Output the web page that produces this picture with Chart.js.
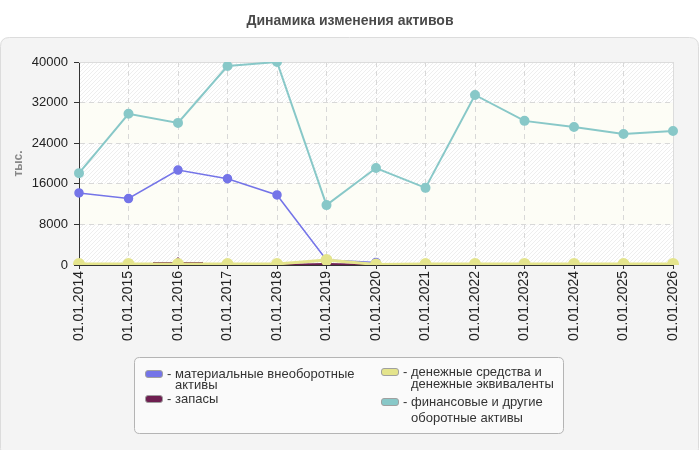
<!DOCTYPE html>
<html><head><meta charset="utf-8">
<script src="https://cdn.jsdelivr.net/npm/chart.js@4"></script>
<style>html,body{margin:0;padding:0;background:#fff;}#wrap{width:700px;height:450px;position:relative}</style>
</head><body><div id="wrap"><canvas id="c" width="700" height="450"></canvas></div>
<script>
const categories = ['01.01.2014','01.01.2015','01.01.2016','01.01.2017','01.01.2018','01.01.2019','01.01.2020','01.01.2021','01.01.2022','01.01.2023','01.01.2024','01.01.2025','01.01.2026'];
const materialAssets = [14200,13100,18700,17000,13800,1000,500,null,null,null,null,null,null];
const stocks = [0,0,400,0,0,200,0,0,0,0,0,0,0];
const stocksMark = [null,null,400,null,null,null,null,null,null,null,null,null,null];
const cash = [200,200,200,200,200,1000,100,200,200,200,200,200,200];
const financial = [18100,29800,28000,39200,40000,11800,19100,15200,33500,28400,27200,25800,26400];
const yTicks = [0,8000,16000,24000,32000,40000];
const seriesNames = ['материальные внеоборотные активы','запасы','денежные средства и денежные эквиваленты','финансовые и другие оборотные активы'];
const titleText = 'Динамика изменения активов';
const yTitle = 'тыс.';

const FONT = '"Liberation Sans", Arial, sans-serif';
const COLORS = ['#7474e8','#6e1f50','#e4e48c','#88c8c8'];

function hatchPattern(ctx){
  const p = document.createElement('canvas'); p.width = 4; p.height = 4;
  const g = p.getContext('2d');
  g.fillStyle = '#ffffff'; g.fillRect(0,0,4,4);
  g.strokeStyle = '#eeeeee'; g.lineWidth = 1;
  g.beginPath(); g.moveTo(0,4); g.lineTo(4,0); g.moveTo(-1,1); g.lineTo(1,-1); g.moveTo(3,5); g.lineTo(5,3); g.stroke();
  return ctx.createPattern(p,'repeat');
}
function roundRect(ctx,x,y,w,h,r){
  ctx.beginPath();
  ctx.moveTo(x+r,y); ctx.lineTo(x+w-r,y); ctx.quadraticCurveTo(x+w,y,x+w,y+r);
  ctx.lineTo(x+w,y+h-r); ctx.quadraticCurveTo(x+w,y+h,x+w-r,y+h);
  ctx.lineTo(x+r,y+h); ctx.quadraticCurveTo(x,y+h,x,y+h-r);
  ctx.lineTo(x,y+r); ctx.quadraticCurveTo(x,y,x+r,y); ctx.closePath();
}

const bgPlugin = {
  id:'bg',
  beforeDraw(chart){
    const ctx = chart.ctx, a = chart.chartArea, y = chart.scales.y;
    ctx.save();
    ctx.fillStyle = '#fff'; ctx.fillRect(0,0,chart.width,chart.height);
    roundRect(ctx,0.5,37.5,698,420,9);
    ctx.fillStyle = '#f4f4f4'; ctx.fill();
    ctx.strokeStyle = '#dcdcdc'; ctx.lineWidth = 1; ctx.stroke();
    ctx.fillStyle = '#4a4a4a'; ctx.font = 'bold 14px ' + FONT;
    ctx.textAlign = 'center'; ctx.textBaseline = 'middle';
    ctx.fillText(titleText, 350, 21);
    const pat = hatchPattern(ctx);
    for (let i = 0; i < yTicks.length-1; i++){
      const y0 = y.getPixelForValue(yTicks[i]), y1 = y.getPixelForValue(yTicks[i+1]);
      ctx.fillStyle = (i % 2 === 0) ? pat : '#fdfdf6';
      ctx.fillRect(a.left, y1, a.right-a.left, y0-y1);
    }
    ctx.restore();
  },
  beforeDatasetsDraw(chart){
    const ctx = chart.ctx, a = chart.chartArea;
    ctx.save();
    ctx.strokeStyle = '#dcdcdc'; ctx.lineWidth = 1;
    ctx.beginPath();
    ctx.moveTo(a.left, Math.round(a.top)+0.5); ctx.lineTo(a.right+0.5, Math.round(a.top)+0.5);
    ctx.lineTo(Math.round(a.right)+0.5, a.bottom);
    ctx.stroke();
    ctx.restore();
  },
  afterDraw(chart){
    const ctx = chart.ctx;
    ctx.save();
    roundRect(ctx,134.5,357.5,429,76,5);
    ctx.fillStyle = '#fafafa'; ctx.fill();
    ctx.strokeStyle = '#b4b4b4'; ctx.lineWidth = 1; ctx.stroke();
    const items = [
      {c:0, x:145, lines:['материальные внеоборотные','активы'], ys:[374,385]},
      {c:1, x:145, lines:['запасы'], ys:[399]},
      {c:2, x:381, lines:['денежные средства и','денежные эквиваленты'], ys:[372,384]},
      {c:3, x:381, lines:['финансовые и другие','оборотные активы'], ys:[402,418]}
    ];
    ctx.font = '13px ' + FONT; ctx.textBaseline = 'middle'; ctx.textAlign = 'left';
    items.forEach(it => {
      roundRect(ctx, it.x+0.5, it.ys[0]-3.5, 17, 7, 2.5);
      ctx.fillStyle = COLORS[it.c]; ctx.fill();
      ctx.strokeStyle = '#a0a0a0'; ctx.lineWidth = 1; ctx.stroke();
      ctx.fillStyle = '#333';
      ctx.fillText('-', it.x+22, it.ys[0]);
      it.lines.forEach((t,k) => ctx.fillText(t, it.x+30, it.ys[k]));
    });
    ctx.restore();
  }
};

const mk = (label, data, color, style, r, w, order, extra) => Object.assign({
  label, data, borderColor: color, backgroundColor: color, pointBackgroundColor: color, pointBorderColor: color,
  pointStyle: style, pointRadius: r, pointHoverRadius: r, borderWidth: w, tension: 0, order, spanGaps: false
}, extra || {});

new Chart(document.getElementById('c'), {
  type: 'line',
  data: {
    labels: categories,
    datasets: [
      mk(seriesNames[0], materialAssets, COLORS[0], 'circle', 4, 1.5, 1),
      mk(seriesNames[1], stocks, COLORS[1], 'rectRot', 4.5, 2, 2),
      mk(seriesNames[1], stocksMark, COLORS[1], 'line', 25, 2, 2, {showLine:false}),
      mk(seriesNames[2], cash, COLORS[2], 'circle', 4.5, 3, 0),
      mk(seriesNames[3], financial, COLORS[3], 'circle', 4, 2, 3)
    ]
  },
  options: {
    responsive: false, animation: false,
    layout: { padding: { top: 62, left: 0, right: 24, bottom: 0 } },
    plugins: { legend: { display: false }, title: { display: false }, tooltip: { enabled: false } },
    scales: {
      x: {
        type: 'category', offset: false,
        grid: { color: '#d8d8d8', tickLength: 4, tickColor: '#333', tickBorderDash: [1,0], offset: false },
        border: { color: '#333', width: 1, dash: [5,4] },
        ticks: { color: '#222', font: { family: FONT, size: 14 }, minRotation: 90, maxRotation: 90, autoSkip: false, padding: 2 },
        afterFit(s){ s.height = 185; }
      },
      y: {
        min: 0, max: 40000,
        afterBuildTicks(s){ s.ticks = yTicks.map(v => ({ value: v })); },
        grid: { color: '#d8d8d8', tickLength: 5, tickColor: '#333', tickBorderDash: [1,0] },
        border: { color: '#333', width: 1, dash: [5,4] },
        ticks: { color: '#222', font: { family: FONT, size: 13 }, padding: 6, callback: v => String(v) },
        title: { display: true, text: yTitle, color: '#888', font: { family: FONT, size: 12, weight: 'bold' }, padding: { top: 11, bottom: 0 } },
        afterFit(s){ s.width = 79; }
      }
    }
  },
  plugins: [bgPlugin]
});
</script></body></html>
